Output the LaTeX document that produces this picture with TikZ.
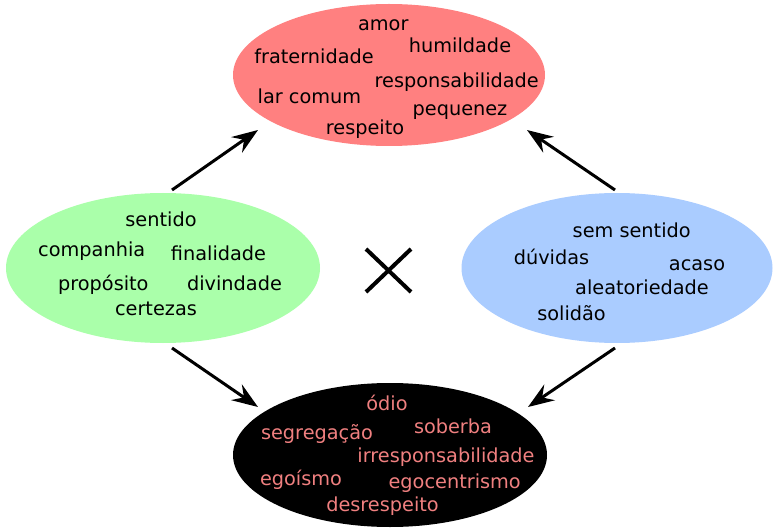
\documentclass[tikz,border=0pt]{standalone}
\usepackage{fontspec}
\setmainfont{DejaVu Sans}
\usetikzlibrary{shapes.geometric,arrows.meta}
\definecolor{redfill}{HTML}{FF8080}
\definecolor{greenfill}{HTML}{AAFFAA}
\definecolor{bluefill}{HTML}{AACCFF}
\definecolor{salmontext}{HTML}{F08080}
\tikzset{
  blob/.style={ellipse, draw=none, inner sep=0pt},
  word/.style={anchor=base, inner sep=0pt, font=\fontsize{19.3}{23}\selectfont},
  darkword/.style={word, text=salmontext},
  linkarrow/.style={line width=3pt, -{Stealth[length=26pt,width=19pt,inset=9pt]}},
  crossline/.style={line width=4pt}
}
\begin{document}
\begin{tikzpicture}[x=1pt,y=-1pt]
\useasboundingbox (0,0) rectangle (773,529);
\fill[white] (0,0) rectangle (773,529);

% ellipses
\node[blob, fill=redfill, minimum width=312pt, minimum height=142pt] (top) at (389,75) {};
\node[blob, fill=greenfill, minimum width=314pt, minimum height=150pt] (left) at (163,268) {};
\node[blob, fill=bluefill, minimum width=311pt, minimum height=150pt] (right) at (617,268) {};
\node[blob, fill=black, minimum width=314pt, minimum height=144pt] (bottom) at (390,455) {};

% top words
\node[word] (w1) at (383.3,30.7) {amor};
\node[word] (w2) at (460,52.3) {humildade};
\node[word] (w3) at (314,63.3) {fraternidade};
\node[word] (w4) at (456.7,87.3) {responsabilidade};
\node[word] (w5) at (309.5,104) {lar comum};
\node[word] (w6) at (460,116) {pequenez};
\node[word] (w7) at (365,135) {respeito};

% left words
\node[word] (l1) at (161,226.7) {sentido};
\node[word] (l2) at (91.7,256.7) {companhia};
\node[word] (l3) at (218.5,261) {finalidade};
\node[word] (l4) at (103.3,290) {propósito};
\node[word] (l5) at (234.5,290) {divindade};
\node[word] (l6) at (156,315) {certezas};

% right words
\node[word] (r1) at (631.7,237.3) {sem sentido};
\node[word] (r2) at (551.5,265) {dúvidas};
\node[word] (r3) at (697,270) {acaso};
\node[word] (r4) at (642,294) {aleatoriedade};
\node[word] (r5) at (571.5,320) {solidão};

% bottom words
\node[darkword] (b1) at (387,410.7) {ódio};
\node[darkword] (b2) at (317,439) {segregação};
\node[darkword] (b3) at (453,433.3) {soberba};
\node[darkword] (b4) at (446,462.7) {irresponsabilidade};
\node[darkword] (b5) at (301,485) {egoísmo};
\node[darkword] (b6) at (454.7,488.3) {egocentrismo};
\node[darkword] (b7) at (382.5,511.7) {desrespeito};

% arrow end points
\coordinate (ltail) at (172,190);
\coordinate (lhead) at (258,130);
\coordinate (rtail) at (615,190);
\coordinate (rhead) at (527,130);
\coordinate (lbtail) at (172,348);
\coordinate (lbhead) at (258,407);
\coordinate (rbtail) at (615,348);
\coordinate (rbhead) at (528,407);

\draw[linkarrow] (ltail) -- (lhead);
\draw[linkarrow] (rtail) -- (rhead);
\draw[linkarrow] (lbtail) -- (lbhead);
\draw[linkarrow] (rbtail) -- (rbhead);

% cross
\coordinate (c1) at (366,249);
\coordinate (c2) at (411,292);
\coordinate (c3) at (411,249);
\coordinate (c4) at (366,292);
\draw[crossline] (c1) -- (c2);
\draw[crossline] (c3) -- (c4);
\end{tikzpicture}
\end{document}
